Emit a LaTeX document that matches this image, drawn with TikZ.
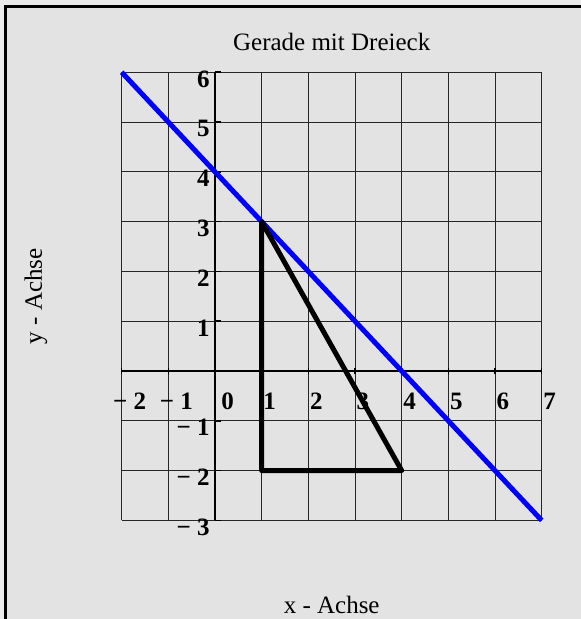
\documentclass[tikz,border=0pt]{standalone}
\usepackage{fontspec}
\setmainfont{Liberation Serif}
\usepackage{tikz}
\definecolor{rand}{RGB}{236,236,236}
\definecolor{flaeche}{RGB}{227,227,227}
\definecolor{gerade}{RGB}{0,0,255}

\begin{document}
\begin{tikzpicture}[x=46.67pt,y=49.8pt,
    zahl/.style={font=\fontsize{25}{28}\selectfont\bfseries,inner sep=0pt},
    beschr/.style={font=\fontsize{25}{30}\selectfont,inner sep=0pt}]
    \useasboundingbox (-4.607,-4.980) rectangle (7.842,7.450);
    \fill[rand] (-4.607,-4.980) rectangle (7.842,7.450);
    \fill[flaeche] (-4.489,-4.980) rectangle (7.842,7.319);
    \draw[line width=3pt] (-4.489,-4.980) -- (-4.489,7.319) -- (7.842,7.319);
    % Gitter und Achsen
    \draw[line width=1pt,black!85,xstep=1,ystep=1] (-2,-3) grid (7,6);
    \draw[line width=2pt] (-2,0) -- (7,0);
    \draw[line width=2pt] (0,-3) -- (0,6);
    \foreach \x in {-2,...,7}
      \draw[line width=1.5pt] (\x,-0.07) -- (\x,0.07);
    \foreach \y in {-3,...,6}
      \draw[line width=1.5pt] (0,\y) -- (0.13,\y);
    % Beschriftung der Achsen
    \foreach \x/\t in {-2/{− 2},-1/{− 1},1/1,2/2,3/3,4/4,5/5,6/6,7/7}
      \node[zahl,anchor=base] (xl\x) at (\x+0.17,-0.78) {\t};
    \node[zahl,anchor=base] (xl0) at (0.27,-0.78) {0};
    \foreach \y/\t in {-3/{− 3},-2/{− 2},-1/{− 1},1/1,2/2,3/3,4/4,5/5,6/6}
      \node[zahl,anchor=base east] (yl\y) at (-0.11,\y-0.3) {\t};
    \node[beschr,anchor=base] (titel) at (2.5,6.43) {Gerade mit Dreieck};
    \node[beschr,anchor=base] (xachse) at (2.5,-4.86) {x - Achse};
    \node[beschr,rotate=90] (yachse) at (-3.84,1.5) {y - Achse};
    % Gerade und Dreieck
    \coordinate (A) at (1,3);
    \coordinate (B) at (1,-2);
    \coordinate (C) at (4,-2);
    \draw[gerade,line width=5pt] (-2,6) -- (7,-3);
    \draw[line width=5pt,line join=round] (A) -- (B) -- (C) -- cycle;
\end{tikzpicture}
\end{document}
